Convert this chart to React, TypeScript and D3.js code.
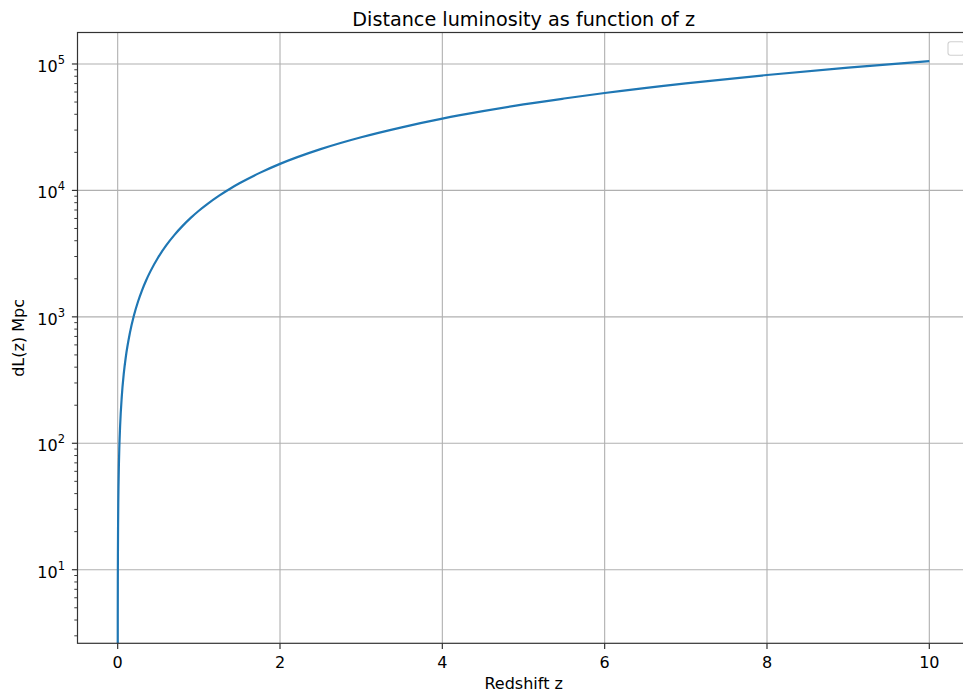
import React from "react";
import * as d3 from "d3";

const redshift = [0, 0.001, 0.002, 0.003, 0.005, 0.0075, 0.01, 0.015, 0.02, 0.03, 0.05, 0.075, 0.1, 0.15, 0.2, 0.25, 0.3, 0.35, 0.4, 0.5, 0.6, 0.7, 0.8, 0.9, 1, 1.1, 1.25, 1.4, 1.5, 1.75, 2, 2.5, 3, 3.5, 4, 4.5, 5, 5.5, 6, 7, 8, 9, 10];
const distanceMpc = [0, 4.48, 8.96, 13.5, 22.4, 33.8, 45.2, 67.9, 90.9, 137, 232, 355, 481, 743, 1024, 1316, 1622, 1940, 2268, 2959, 3688, 4450, 5243, 6061, 6904, 7753, 9083, 10451, 11380, 13762, 16214, 21210, 26330, 31560, 36940, 42320, 47860, 53300, 58940, 70330, 81820, 93420, 105180];
const xTicks = [0, 2, 4, 6, 8, 10];
const yTickExponents = [1, 2, 3, 4, 5];

const W = 963;
const H = 693;
const left = 77.5;
const right = 969.9;
const top = 32.5;
const bottom = 643.3;

export default function App() {
  const x = d3.scaleLinear().domain([-0.495, 10.5]).range([left, right]);
  const y = d3.scaleLog().domain([Math.pow(10, 0.418), Math.pow(10, 5.249)]).range([bottom, top]);
  const pts = redshift.map((z, i) => [z, distanceMpc[i]] as [number, number]);
  const line = d3
    .line<[number, number]>()
    .x((d) => x(d[0]))
    .y((d) => (d[1] > 0 ? y(d[1]) : bottom + 1000))
    .curve(d3.curveMonotoneX);
  const minor: number[] = [];
  for (let e = 0; e <= 5; e++) {
    for (let m = 2; m <= 9; m++) {
      const v = m * Math.pow(10, e);
      const ly = Math.log10(v);
      if (ly >= 0.418 && ly <= 5.249) minor.push(v);
    }
  }
  const font = "'DejaVu Sans', sans-serif";
  return (
    <svg width={W} height={H} style={{ position: "absolute", left: 0, top: 0, background: "#fff" }} fontFamily={font}>
      <defs>
        <clipPath id="plot">
          <rect x={left} y={top} width={right - left} height={bottom - top} />
        </clipPath>
      </defs>
      <rect x={0} y={0} width={W} height={H} fill="#fff" />
      {xTicks.map((t) => (
        <line key={"gx" + t} x1={x(t)} x2={x(t)} y1={top} y2={bottom} stroke="#b0b0b0" strokeWidth={1.1} />
      ))}
      {yTickExponents.map((e) => (
        <line key={"gy" + e} x1={left} x2={right} y1={y(Math.pow(10, e))} y2={y(Math.pow(10, e))} stroke="#b0b0b0" strokeWidth={1.1} />
      ))}
      <path d={line(pts) || ""} fill="none" stroke="#1f77b4" strokeWidth={2.2} clipPath="url(#plot)" strokeLinejoin="round" />
      <rect x={left} y={top} width={right - left} height={bottom - top} fill="none" stroke="#333" strokeWidth={1.2} />
      {xTicks.map((t) => (
        <g key={"xt" + t}>
          <line x1={x(t)} x2={x(t)} y1={bottom} y2={bottom + 5.6} stroke="#333" strokeWidth={1.2} />
          <text x={x(t)} y={668} textAnchor="middle" fontSize={16} fill="#000">
            {t}
          </text>
        </g>
      ))}
      {yTickExponents.map((e) => {
        const yy = y(Math.pow(10, e));
        return (
          <g key={"yt" + e}>
            <line x1={left - 5.6} x2={left} y1={yy} y2={yy} stroke="#333" strokeWidth={1.2} />
            <text x={65} y={yy + 8} textAnchor="end" fontSize={16} fill="#000">
              10
              <tspan dy={-8} fontSize={11.5}>
                {e}
              </tspan>
            </text>
          </g>
        );
      })}
      {minor.map((v) => (
        <line key={"m" + v} x1={left - 3.2} x2={left} y1={y(v)} y2={y(v)} stroke="#333" strokeWidth={0.95} />
      ))}
      <rect x={948} y={41.7} width={16} height={13.5} rx={2.5} fill="#fff" fillOpacity={0.8} stroke="#d0d0d0" strokeWidth={1.1} />
      <text x={(left + right) / 2} y={25.5} textAnchor="middle" fontSize={19.2} fill="#000">
        Distance luminosity as function of z
      </text>
      <text x={(left + right) / 2} y={689} textAnchor="middle" fontSize={16} fill="#000">
        Redshift z
      </text>
      <text transform={`translate(24, ${(top + bottom) / 2}) rotate(-90)`} textAnchor="middle" fontSize={16} fill="#000">
        dL(z) Mpc
      </text>
    </svg>
  );
}
